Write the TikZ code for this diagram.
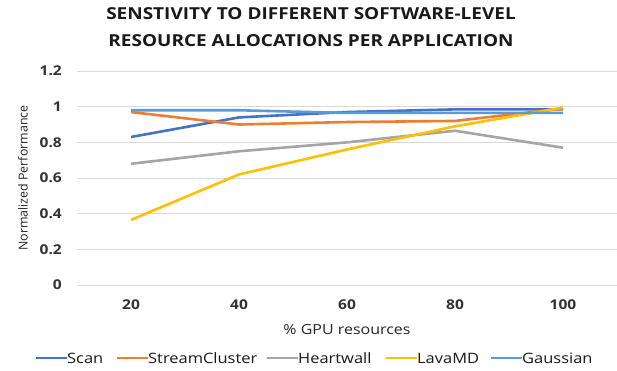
\documentclass[tikz,border=0pt]{standalone}
\usepackage{fontspec}
\setmainfont{Open Sans}
\newfontfamily\widefont[FakeStretch=1.15]{Open Sans}
\usetikzlibrary{positioning,calc}
\definecolor{cscan}{HTML}{4472C4}
\definecolor{cstream}{HTML}{ED7D31}
\definecolor{cheart}{HTML}{A5A5A5}
\definecolor{clava}{HTML}{FFC000}
\definecolor{cgauss}{HTML}{5B9BD5}
\colorlet{gridc}{gray!30}
\tikzset{
  gln/.style   = { draw=gridc, line width=0.9pt },
  ser/.style   = { line width=2.6pt, line join=round },
  tlab/.style  = { font=\widefont\fontsize{13.5}{15}\selectfont\bfseries, text=black!80, inner sep=0pt },
  atitle/.style = { font=\fontsize{12.4}{14}\selectfont, text=black!85, inner sep=0pt },
  ttl/.style   = { font=\widefont\fontsize{16.5}{19}\selectfont\bfseries, text=black!90, inner sep=0pt },
  lgt/.style   = { font=\widefont\fontsize{14.3}{17}\selectfont, text=black!90, inner sep=0pt, anchor=west }
}
\begin{document}
\begin{tikzpicture}[x=1pt,y=-1pt]
  \useasboundingbox[fill=white] (0,0) rectangle (617,371);
  % title
  \node[ttl] (t1) at (311,14) {SENSTIVITY TO DIFFERENT SOFTWARE-LEVEL};
  \node[ttl] (t2) at (311,41) {RESOURCE ALLOCATIONS PER APPLICATION};
  % grid and y ticks
  \foreach \v/\lab in {0/0,0.2/0.2,0.4/0.4,0.6/0.6,0.8/0.8,1/1,1.2/1.2}{
    \draw[gln] (77,{285-178.3*\v}) coordinate (g-\lab) -- (617,{285-178.3*\v});
    \node[tlab,anchor=east] (y-\lab) at (62,{285-178.3*\v}) {\lab};
  }
  % x ticks
  \foreach \c [count=\i] in {20,40,60,80,100}
    \node[tlab] (x-\c) at ({131+108*(\i-1)},305) {\c};
  \node[atitle,font=\widefont\fontsize{13.9}{16}\selectfont] (xt) at (347,330) {\% GPU resources};
  \node[atitle,rotate=90] (yt) at (23,178) {Normalized Performance};
  % series
  \foreach \nm/\col/\vals in {
      scan/cscan/{0.83,0.94,0.97,0.985,0.985},
      strm/cstream/{0.97,0.90,0.914,0.92,0.99},
      hw/cheart/{0.68,0.75,0.80,0.865,0.77},
      lava/clava/{0.365,0.62,0.76,0.89,0.995},
      gss/cgauss/{0.98,0.98,0.965,0.965,0.965}}{
    \foreach \v [count=\i] in \vals
      \coordinate (\nm-\i) at ({131+108*(\i-1)},{285-178.3*\v});
    \draw[ser,\col] (\nm-1) -- (\nm-2) -- (\nm-3) -- (\nm-4) -- (\nm-5);
  }
  % legend
  \foreach \nm/\col/\xs/\lab in {scan/cscan/36/Scan,strm/cstream/117/StreamCluster,
      hw/cheart/267/Heartwall,lava/clava/386/LavaMD,gss/cgauss/491/Gaussian}{
    \coordinate (lg-\nm) at (\xs,358);
    \node[lgt] (lt-\nm) at ($(lg-\nm)+(31,0)$) {\lab};
    \draw[ser,\col,line width=2.2pt] (lg-\nm) -- (lt-\nm.west);
  }
\end{tikzpicture}
\end{document}
